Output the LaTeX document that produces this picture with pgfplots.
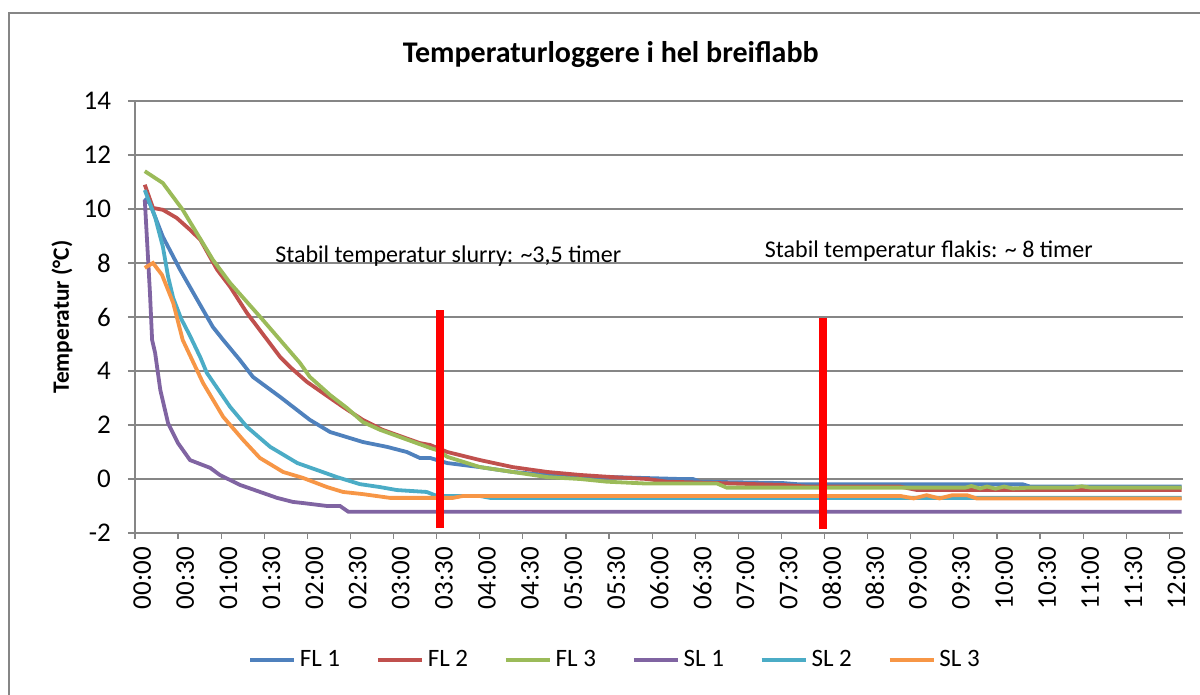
\documentclass[border=0pt]{standalone}
\usepackage{fontspec}
\setmainfont{Carlito}
\usepackage{pgfplots}
\pgfplotsset{compat=1.18}
\definecolor{axisgray}{HTML}{868686}
\definecolor{cFLa}{HTML}{4F81BD}
\definecolor{cFLb}{HTML}{C0504D}
\definecolor{cFLc}{HTML}{9BBB59}
\definecolor{cSLa}{HTML}{8064A2}
\definecolor{cSLb}{HTML}{4BACC6}
\definecolor{cSLc}{HTML}{F79646}
\newcommand{\tfont}{\fontsize{12.5}{15}\selectfont}
\newcommand{\kfont}{\fontsize{13.5}{16}\selectfont}
\begin{document}
\begin{tikzpicture}
\useasboundingbox (-67.5pt,-81pt) rectangle (532.5pt,266.5pt);
\draw[axisgray, line width=1pt] (-62.75pt,-95pt) -- (-62.75pt,260pt) -- (545pt,260pt);
\begin{axis}[
  scale only axis,
  width=524pt, height=216pt,
  xmin=-0.0835, xmax=12.075,
  ymin=-2, ymax=14,
  ytick={-2,0,...,14},
  xtick={0,0.5,...,12},
  xticklabels={00:00,00:30,01:00,01:30,02:00,02:30,03:00,03:30,04:00,04:30,05:00,05:30,06:00,06:30,07:00,07:30,08:00,08:30,09:00,09:30,10:00,10:30,11:00,11:30,12:00},
  minor xtick={-0.0835,0.4165,...,11.92},
  tick align=outside,
  major tick length=3.5pt,
  minor tick length=3pt,
  major x tick style={draw=none},
  minor x tick style={draw=axisgray, line width=0.6pt},
  major y tick style={draw=axisgray, line width=0.6pt},
  axis x line*=bottom,
  axis y line*=left,
  axis line style={-, draw=axisgray, line width=0.8pt},
  ymajorgrids,
  grid style={axisgray, line width=0.6pt},
  /pgf/number format/assume math mode=true,
  tick label style={font=\kfont, black},
  xticklabel style={rotate=90, anchor=east},
  yticklabel style={xshift=-5pt},
  ylabel={\textbf{Temperatur (°C)}},
  every axis y label/.style={at={(axis description cs:0,0.5)}, xshift=-36.5pt, rotate=90, anchor=center, font=\fontsize{11.7}{14}\selectfont},
  title={Temperaturloggere i hel breiflabb},
  title style={at={(axis description cs:0.454,1)}, yshift=17pt, anchor=center, font=\fontsize{15}{18}\selectfont\bfseries},
  legend columns=6,
  legend style={at={(axis description cs:0.459,-0.294)}, anchor=center, draw=none, font=\tfont,
    /tikz/every even column/.append style={column sep=16pt}},
  legend image code/.code={\draw[#1, line width=1.8pt] (0pt,0pt) -- (22pt,0pt);},
  every axis plot/.append style={line width=1.9pt},
]
\addplot[cFLa] coordinates {(0.03,10.4)(0.09,10.2)(0.24,8.97)(0.44,7.75)(0.64,6.63)(0.82,5.63)(0.94,5.15)(1.135,4.4)(1.285,3.78)(1.60,3.04)(1.945,2.19)(2.18,1.74)(2.56,1.37)(2.84,1.19)(3.07,1.0)(3.22,0.78)(3.34,0.78)(3.42,0.7)(3.54,0.59)(3.92,0.44)(4.30,0.26)(4.70,0.15)(5.08,0.07)(5.46,0.07)(6.24,0)(6.39,0)(6.47,-0.1)(7.43,-0.15)(7.63,-0.2)(10.22,-0.2)(10.3,-0.28)(12.06,-0.28)};
\addlegendentry{FL 1}
\addplot[cFLb] coordinates {(0.03,10.9)(0.125,10.04)(0.24,9.97)(0.40,9.67)(0.555,9.23)(0.675,8.86)(0.87,7.75)(1.02,7.12)(1.215,6.15)(1.60,4.52)(1.715,4.15)(1.91,3.6)(2.18,3.0)(2.33,2.67)(2.56,2.19)(2.79,1.82)(3.22,1.33)(3.34,1.26)(3.54,1.0)(3.92,0.7)(4.30,0.44)(4.70,0.26)(5.08,0.15)(5.46,0.07)(5.86,0)(6.09,-0.1)(6.67,-0.15)(7.43,-0.22)(7.71,-0.28)(8.79,-0.28)(8.99,-0.41)(12.06,-0.41)};
\addlegendentry{FL 2}
\addplot[cFLc] coordinates {(0.03,11.4)(0.24,10.96)(0.47,9.97)(0.82,8.12)(1.02,7.26)(1.40,5.89)(1.60,5.15)(1.83,4.30)(1.945,3.78)(2.18,3.11)(2.375,2.63)(2.56,2.11)(2.76,1.82)(3.34,1.15)(3.42,1.07)(3.54,0.82)(3.92,0.44)(4.30,0.26)(4.70,0.07)(5.08,0)(5.39,-0.1)(5.86,-0.17)(6.67,-0.17)(6.78,-0.32)(9.55,-0.32)(9.62,-0.26)(9.72,-0.35)(9.8,-0.28)(9.9,-0.36)(10.0,-0.28)(10.1,-0.35)(10.3,-0.32)(10.8,-0.32)(10.9,-0.27)(11.0,-0.32)(12.06,-0.32)};
\addlegendentry{FL 3}
\addplot[cSLa] coordinates {(0.03,10.34)(0.09,6.9)(0.115,5.15)(0.15,4.67)(0.21,3.3)(0.30,2.07)(0.415,1.33)(0.555,0.70)(0.79,0.41)(0.90,0.15)(1.135,-0.22)(1.565,-0.70)(1.75,-0.85)(1.865,-0.89)(2.145,-1.0)(2.295,-1.0)(2.39,-1.21)(12.06,-1.21)};
\addlegendentry{SL 1}
\addplot[cSLb] coordinates {(0.03,10.7)(0.15,9.7)(0.24,8.6)(0.30,7.5)(0.36,6.7)(0.45,5.95)(0.555,5.3)(0.675,4.5)(0.75,3.93)(1.02,2.67)(1.215,1.93)(1.485,1.19)(1.80,0.59)(2.03,0.33)(2.26,0.07)(2.525,-0.19)(2.76,-0.3)(2.955,-0.41)(3.30,-0.48)(3.42,-0.63)(3.92,-0.63)(4.035,-0.70)(12.06,-0.70)};
\addlegendentry{SL 2}
\addplot[cSLc] coordinates {(0.03,7.82)(0.125,8.0)(0.23,7.56)(0.36,6.52)(0.47,5.15)(0.705,3.56)(0.94,2.30)(1.17,1.45)(1.365,0.78)(1.635,0.26)(1.865,0.04)(2.145,-0.30)(2.33,-0.48)(2.56,-0.56)(2.875,-0.70)(3.605,-0.70)(3.72,-0.63)(8.8,-0.63)(8.95,-0.72)(9.1,-0.6)(9.25,-0.72)(9.4,-0.6)(9.57,-0.6)(9.68,-0.72)(12.06,-0.72)};
\addlegendentry{SL 3}
\addplot[red, line width=4pt, forget plot] coordinates {(3.45,-1.82)(3.45,6.26)};
\addplot[red, line width=4pt, forget plot] coordinates {(7.90,-1.85)(7.90,5.97)};
\node[anchor=west, font=\fontsize{12}{14}\selectfont, inner sep=0pt] at (axis cs:1.54,8.27) {Stabil temperatur slurry: \textasciitilde3,5 timer};
\node[anchor=west, font=\fontsize{12}{14}\selectfont, inner sep=0pt] at (axis cs:7.22,8.45) {Stabil temperatur flakis: \textasciitilde\ 8 timer};
\end{axis}
\end{tikzpicture}
\end{document}
